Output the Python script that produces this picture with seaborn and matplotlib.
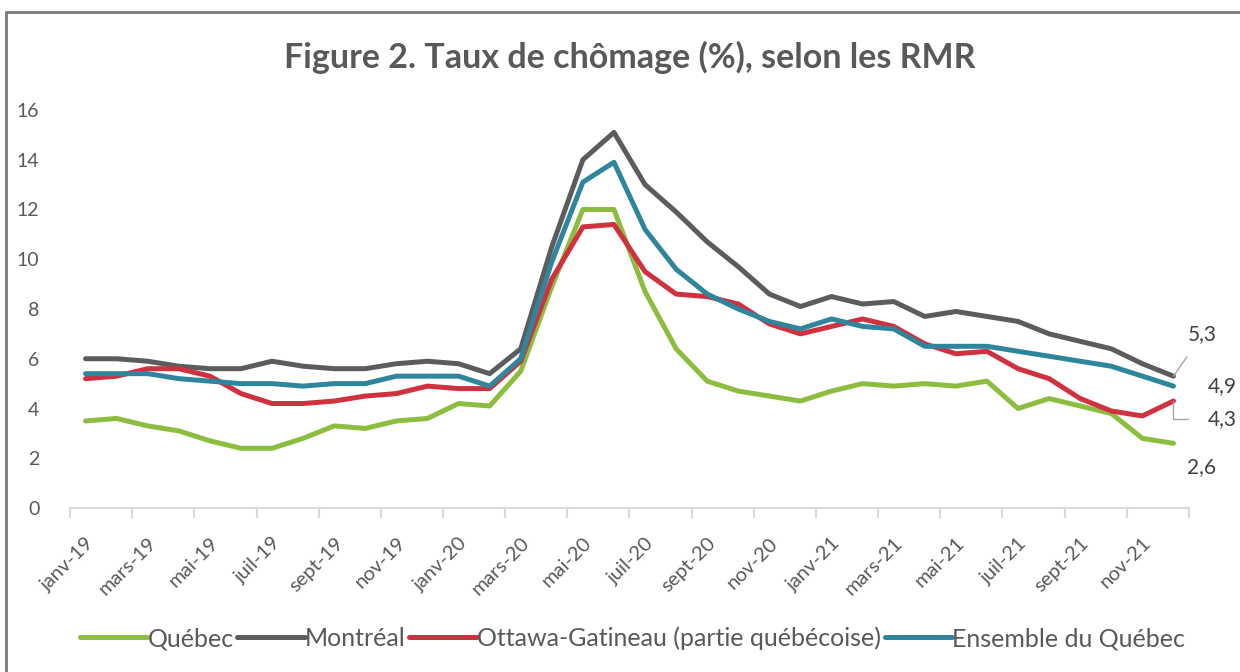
import numpy as np
import pandas as pd
import matplotlib.pyplot as plt
import seaborn as sns
from matplotlib.patches import Rectangle
from matplotlib.ticker import FixedLocator

mois = ['janv-19', 'févr-19', 'mars-19', 'avr-19', 'mai-19', 'juin-19',
        'juil-19', 'août-19', 'sept-19', 'oct-19', 'nov-19', 'déc-19',
        'janv-20', 'févr-20', 'mars-20', 'avr-20', 'mai-20', 'juin-20',
        'juil-20', 'août-20', 'sept-20', 'oct-20', 'nov-20', 'déc-20',
        'janv-21', 'févr-21', 'mars-21', 'avr-21', 'mai-21', 'juin-21',
        'juil-21', 'août-21', 'sept-21', 'oct-21', 'nov-21', 'déc-21']

quebec = [3.5, 3.6, 3.3, 3.1, 2.7, 2.4, 2.4, 2.8, 3.3, 3.2, 3.5, 3.6,
          4.2, 4.1, 5.5, 8.9, 12.0, 12.0, 8.7, 6.4, 5.1, 4.7, 4.5, 4.3,
          4.7, 5.0, 4.9, 5.0, 4.9, 5.1, 4.0, 4.4, 4.1, 3.8, 2.8, 2.6]
montreal = [6.0, 6.0, 5.9, 5.7, 5.6, 5.6, 5.9, 5.7, 5.6, 5.6, 5.8, 5.9,
            5.8, 5.4, 6.4, 10.5, 14.0, 15.1, 13.0, 11.9, 10.7, 9.7, 8.6, 8.1,
            8.5, 8.2, 8.3, 7.7, 7.9, 7.7, 7.5, 7.0, 6.7, 6.4, 5.8, 5.3]
ottawa = [5.2, 5.3, 5.6, 5.6, 5.3, 4.6, 4.2, 4.2, 4.3, 4.5, 4.6, 4.9,
          4.8, 4.8, 5.9, 9.2, 11.3, 11.4, 9.5, 8.6, 8.5, 8.2, 7.4, 7.0,
          7.3, 7.6, 7.3, 6.6, 6.2, 6.3, 5.6, 5.2, 4.4, 3.9, 3.7, 4.3]
ensemble = [5.4, 5.4, 5.4, 5.2, 5.1, 5.0, 5.0, 4.9, 5.0, 5.0, 5.3, 5.3,
            5.3, 4.9, 6.0, 9.9, 13.1, 13.9, 11.2, 9.6, 8.6, 8.0, 7.5, 7.2,
            7.6, 7.3, 7.2, 6.5, 6.5, 6.5, 6.3, 6.1, 5.9, 5.7, 5.3, 4.9]

series = {
    'Québec': quebec,
    'Montréal': montreal,
    'Ottawa-Gatineau (partie québécoise)': ottawa,
    'Ensemble du Québec': ensemble,
}
couleurs = {
    'Québec': '#8cbd3f',
    'Montréal': '#5b5c5e',
    'Ottawa-Gatineau (partie québécoise)': '#d0313f',
    'Ensemble du Québec': '#2f869c',
}

rows = []
for nom, vals in series.items():
    for i, v in enumerate(vals):
        rows.append({'pos': i, 'mois': mois[i], 'taux': v, 'serie': nom})
df = pd.DataFrame(rows)

sns.set_theme(style='white')
plt.rcParams['font.family'] = ['Lato', 'DejaVu Sans']
texte = '#595959'

fig = plt.figure(figsize=(12.4, 6.72), dpi=100)
ax = fig.add_axes([70 / 1240, 1 - 508 / 672, (1189 - 70) / 1240, (508 - 110) / 672])

sns.lineplot(data=df, x='pos', y='taux', hue='serie', hue_order=list(series.keys()),
             palette=couleurs, linewidth=3.6, ax=ax)

ax.set_xlim(-0.5, len(mois) - 0.5)
ax.set_ylim(0, 16)
ax.set_yticks(range(0, 17, 2))
ax.set_xticks(range(0, len(mois), 2))
ax.set_xticklabels(mois[::2], rotation=45, ha='right', rotation_mode='anchor')
ax.xaxis.set_minor_locator(FixedLocator(np.arange(-0.5, len(mois), 2).tolist() + [len(mois) - 0.5]))
ax.tick_params(axis='x', which='major', length=0, pad=19, labelsize=14.5, colors=texte)
ax.tick_params(axis='x', which='minor', length=7, width=1.5, color='#d9d9d9', bottom=True)
ax.tick_params(axis='y', length=0, pad=22, labelsize=14, colors=texte)
ax.set_xlabel('')
ax.set_ylabel('')
for s in ['left', 'right', 'top']:
    ax.spines[s].set_visible(False)
ax.spines['bottom'].set_color('#d9d9d9')
ax.spines['bottom'].set_linewidth(1.5)

handles, labels = ax.get_legend_handles_labels()
ax.get_legend().remove()
fig.legend(handles, labels, loc='center', bbox_to_anchor=(0.51, 0.05), ncol=4,
           frameon=False, fontsize=18, handlelength=2.7, handletextpad=0.0,
           columnspacing=0.15, labelcolor=texte)

fig.text(0.508, 1 - 57 / 672, 'Figure 2. Taux de chômage (%), selon les RMR',
         ha='center', va='center', fontsize=24.5, fontweight='bold', color=texte)

# étiquettes de la dernière valeur
last = len(mois) - 1
fmt = lambda v: f'{v:.1f}'.replace('.', ',')
lab = '#404040'
ax.annotate(fmt(montreal[last]), (last, montreal[last]), xytext=(21, 30),
            textcoords='offset points', ha='center', va='center', fontsize=15, color=lab,
            arrowprops=dict(arrowstyle='-', color='#a6a6a6', lw=1, shrinkA=8, shrinkB=0))
ax.annotate(fmt(ensemble[last]), (last, ensemble[last]), xytext=(35, 0),
            textcoords='offset points', ha='center', va='center', fontsize=15, color=lab)
ax.annotate(fmt(ottawa[last]), (last, ottawa[last]), xytext=(35, -13),
            textcoords='offset points', ha='center', va='center', fontsize=15, color=lab,
            arrowprops=dict(arrowstyle='-', color='#a6a6a6', lw=1, shrinkA=12, shrinkB=0,
                            connectionstyle='angle,angleA=0,angleB=90,rad=0'))
ax.annotate(fmt(quebec[last]), (last, quebec[last]), xytext=(20, -17),
            textcoords='offset points', ha='center', va='center', fontsize=15, color=lab)

fig.patches.append(Rectangle((6 / 1240, -0.05), 1.1, 1 - 12 / 672 + 0.05,
                             transform=fig.transFigure, fill=False,
                             edgecolor='#7a7a7a', linewidth=2))

fig.savefig('out.png', dpi=100)
